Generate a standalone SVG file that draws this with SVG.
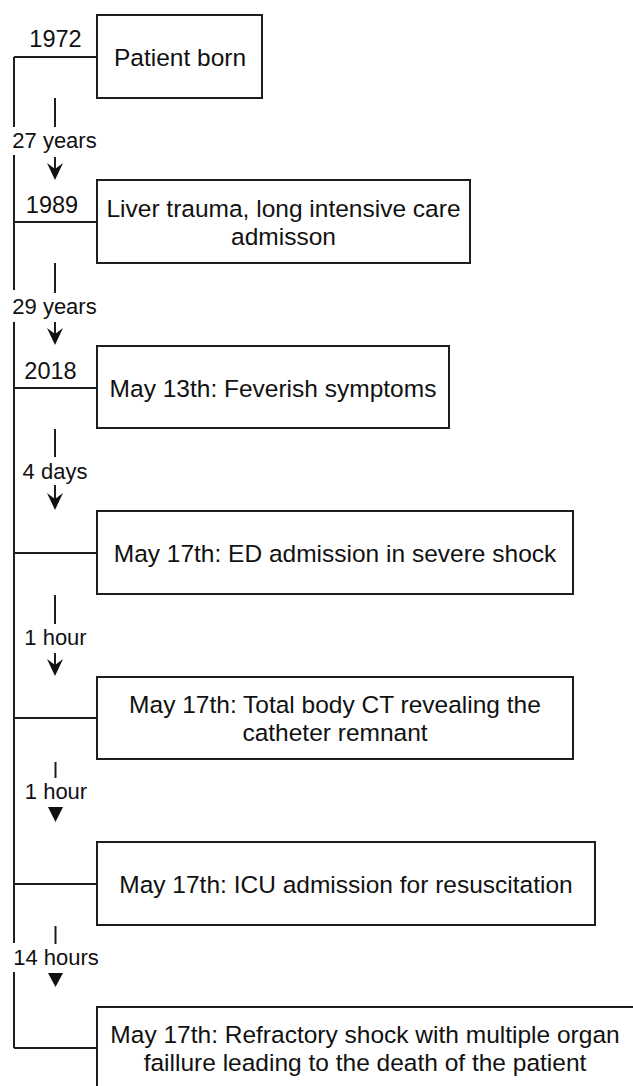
<svg xmlns="http://www.w3.org/2000/svg" width="633" height="1086" viewBox="0 0 633 1086">
<style>
.box{fill:#fff;stroke:#1e1e1e;stroke-width:2}
.ln{fill:none;stroke:#1e1e1e;stroke-width:2}
.ah{fill:#111;stroke:none}
.t{font-family:"Liberation Sans",Arial,Helvetica,sans-serif;font-size:24.5px;fill:#111;text-anchor:middle}
.yr{font-family:"Liberation Sans",Arial,Helvetica,sans-serif;font-size:23.5px;fill:#111;text-anchor:middle}
.du{font-family:"Liberation Sans",Arial,Helvetica,sans-serif;font-size:22px;fill:#111;text-anchor:middle}
</style>
<rect width="633" height="1086" fill="#fff"/>
<g id="connectors">
  <!-- main timeline spine with gaps for labels -->
  <path class="ln" d="M14,57 V127 M14,155 V290 M14,322 V943 M14,972 V1048"/>
  <!-- branches -->
  <path class="ln" d="M14,57 H97 M14,222 H97 M14,388 H97 M14,553 H97 M14,718 H97 M14,884 H97 M14,1048 H97"/>
  <!-- duration ticks -->
  <path class="ln" d="M55,98 V127 M55,263 V293 M55,429 V457 M55,595 V624 M55.5,762 V778 M55.5,926 V944"/>
  <!-- arrows with stem -->
  <path class="ln" d="M55,157 V170 M55,322 V335 M55,485 V500 M55,653 V666"/>
  <path class="ah" d="M55,180 L47,163 L55,169 L63,163 Z"/>
  <path class="ah" d="M55,345 L47,328 L55,334 L63,328 Z"/>
  <path class="ah" d="M55,510 L47,493 L55,499 L63,493 Z"/>
  <path class="ah" d="M55,676 L47,659 L55,665 L63,659 Z"/>
  <!-- triangles -->
  <path class="ah" d="M48,807 L63,807 L55.5,822 Z"/>
  <path class="ah" d="M48,973 L63,973 L55.5,987 Z"/>
</g>
<g id="labels">
  <text class="yr" x="55.5" y="47">1972</text>
  <text class="yr" x="52" y="213">1989</text>
  <text class="yr" x="50.5" y="379">2018</text>
  <text class="du" x="54.5" y="148">27 years</text>
  <text class="du" x="54.5" y="314">29 years</text>
  <text class="du" x="55" y="479">4 days</text>
  <text class="du" x="55.5" y="645">1 hour</text>
  <text class="du" x="56" y="799">1 hour</text>
  <text class="du" x="56" y="965">14 hours</text>
</g>
<g id="node1">
  <rect class="box" x="97" y="15" width="165" height="83"/>
  <text class="t" x="180" y="65.5">Patient born</text>
</g>
<g id="node2">
  <rect class="box" x="97" y="180" width="373" height="83"/>
  <text class="t" x="283.5" y="217">Liver trauma, long intensive care</text>
  <text class="t" x="283.5" y="245">admisson</text>
</g>
<g id="node3">
  <rect class="box" x="97" y="346" width="352" height="82"/>
  <text class="t" x="273" y="396.5">May 13th: Feverish symptoms</text>
</g>
<g id="node4">
  <rect class="box" x="97" y="511" width="476" height="83"/>
  <text class="t" x="335" y="562">May 17th: ED admission in severe shock</text>
</g>
<g id="node5">
  <rect class="box" x="97" y="677" width="476" height="82"/>
  <text class="t" x="335" y="713">May 17th: Total body CT revealing the</text>
  <text class="t" x="335" y="741">catheter remnant</text>
</g>
<g id="node6">
  <rect class="box" x="97" y="842" width="498" height="83"/>
  <text class="t" x="346" y="892.5">May 17th: ICU admission for resuscitation</text>
</g>
<g id="node7">
  <rect class="box" x="97" y="1007" width="540" height="100"/>
  <text class="t" x="365" y="1043">May 17th: Refractory shock with multiple organ</text>
  <text class="t" x="365" y="1071">faillure leading to the death of the patient</text>
</g>
</svg>
